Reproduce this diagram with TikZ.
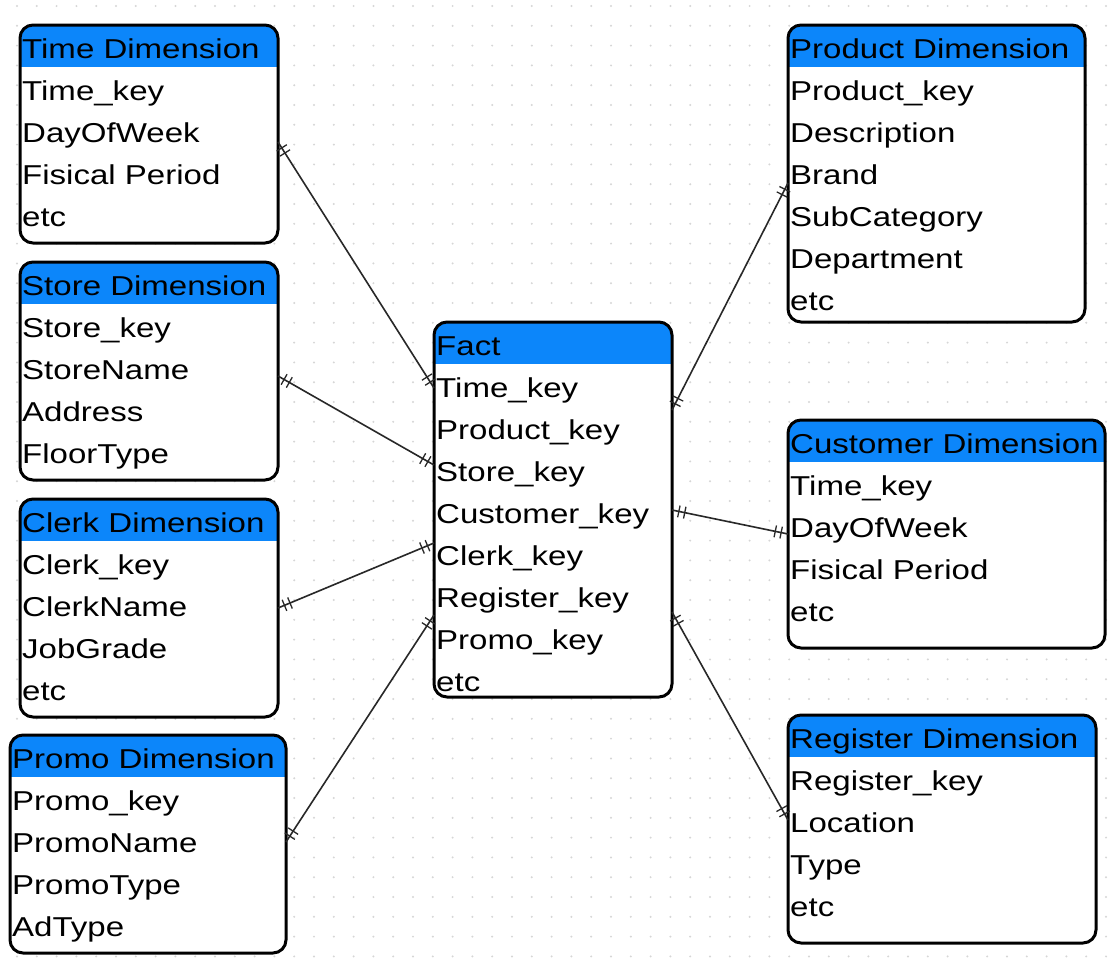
\documentclass[tikz,border=0pt]{standalone}
\usepackage{fontspec}
\setmainfont{Liberation Sans}[FakeStretch=1.21]
\usetikzlibrary{calc,decorations.markings}

\definecolor{hdrblue}{RGB}{12,134,250}
\definecolor{gridgray}{RGB}{214,214,214}
\definecolor{linkgray}{RGB}{40,40,40}

\tikzset{
  entity/.style={fill=white, draw=black, line width=3pt, rounded corners=13pt,
    inner sep=0pt, outer sep=0pt, anchor=north west,
    path picture={\fill[hdrblue, sharp corners] (path picture bounding box.north west)
      rectangle ([yshift=-42pt]path picture bounding box.north east);}},
  field/.style={anchor=base west, inner sep=0pt, text=black,
    font=\fontsize{27.3}{30}\selectfont},
  onetick/.style={draw=linkgray, line width=1.3pt},
  rel/.style={draw=linkgray, line width=1.6pt, postaction={decorate},
    decoration={markings,
      mark=at position 7pt with {\draw[onetick] (0pt,-6pt) -- (0pt,6pt);},
      mark=at position 13pt with {\draw[onetick] (0pt,-6pt) -- (0pt,6pt);},
      mark=at position -7pt with {\draw[onetick] (0pt,-6pt) -- (0pt,6pt);},
      mark=at position -13pt with {\draw[onetick] (0pt,-6pt) -- (0pt,6pt);}}}
}

% \erbox{name}{left}{top}{width}{height}{title}{fields}
\newcommand\erbox[7]{%
  \node[entity, minimum width=#4pt, minimum height=#5pt] (#1) at (#2,#3) {};
  \node[field] (#1-title) at ($(#1.north west)+(2,33.5)$) {#6};
  \foreach \fld [count=\k] in {#7}
    \node[field] (#1-f\k) at ($(#1.north west)+(2,33.5+42*\k)$) {\fld};
}

\begin{document}
\begin{tikzpicture}[x=1pt, y=-1pt]
  \useasboundingbox (0,0) rectangle (1108,964);
  \fill[white] (0,0) rectangle (1108,964);

  % dotted canvas grid
  \foreach \gx in {0,...,55}
    \foreach \gy in {0,...,48}
      \fill[gridgray] (17+19.8*\gx, 6+19.8*\gy) circle (1.1pt);

  % dimension tables
  \erbox{time}{20}{25}{258}{218}{Time Dimension}
    {Time\_key, DayOfWeek, Fisical Period, etc}
  \erbox{store}{20}{262}{258}{218}{Store Dimension}
    {Store\_key, StoreName, Address, FloorType}
  \erbox{clerk}{20}{499}{258}{218}{Clerk Dimension}
    {Clerk\_key, ClerkName, JobGrade, etc}
  \erbox{promo}{10}{735}{276}{218}{Promo Dimension}
    {Promo\_key, PromoName, PromoType, AdType}
  \erbox{product}{788}{25}{297}{297}{Product Dimension}
    {Product\_key, Description, Brand, SubCategory, Department, etc}
  \erbox{customer}{788}{420}{317}{228}{Customer Dimension}
    {Time\_key, DayOfWeek, Fisical Period, etc}
  \erbox{register}{788}{715}{308}{228}{Register Dimension}
    {Register\_key, Location, Type, etc}

  % fact table
  \erbox{fact}{434}{322}{238}{375}{Fact}
    {Time\_key, Product\_key, Store\_key, Customer\_key, Clerk\_key,
     Register\_key, Promo\_key, etc}

  % connector end points on the table borders
  \coordinate (time-r)     at ($(time.north east)+(0,117)$);
  \coordinate (store-r)    at ($(store.north east)+(0,114)$);
  \coordinate (clerk-r)    at ($(clerk.north east)+(0,109)$);
  \coordinate (promo-r)    at ($(promo.north east)+(0,107)$);
  \coordinate (fact-l1)    at ($(fact.north west)+(0,66)$);
  \coordinate (fact-l2)    at ($(fact.north west)+(0,143)$);
  \coordinate (fact-l3)    at ($(fact.north west)+(0,221)$);
  \coordinate (fact-l4)    at ($(fact.north west)+(0,293)$);
  \coordinate (fact-r1)    at ($(fact.north east)+(0,88)$);
  \coordinate (fact-r2)    at ($(fact.north east)+(0,188)$);
  \coordinate (fact-r3)    at ($(fact.north east)+(0,290)$);
  \coordinate (product-l)  at ($(product.north west)+(0,158)$);
  \coordinate (customer-l) at ($(customer.north west)+(0,114)$);
  \coordinate (register-l) at ($(register.north west)+(0,105)$);

  % one-to-one relationships
  \draw[rel] (time-r)  -- (fact-l1);
  \draw[rel] (store-r) -- (fact-l2);
  \draw[rel] (clerk-r) -- (fact-l3);
  \draw[rel] (promo-r) -- (fact-l4);
  \draw[rel] (fact-r1) -- (product-l);
  \draw[rel] (fact-r2) -- (customer-l);
  \draw[rel] (fact-r3) -- (register-l);
\end{tikzpicture}
\end{document}
